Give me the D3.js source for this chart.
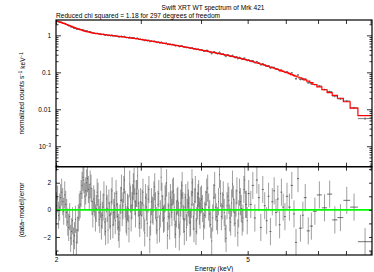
<!DOCTYPE html>
<html>
<head>
<meta charset="utf-8">
<script src="https://cdn.jsdelivr.net/npm/d3@7"></script>
<style>
body { margin: 0; background: #fff; }
svg { display: block; font-family: "Liberation Sans", Arial, sans-serif; }
.axis text { font-size: 6.5px; fill: #000; }
.axis line { stroke: #000; stroke-width: 0.8; }
</style>
</head>
<body>
<script>
//energy bin edges (keV)
var edgesA = [2.00, 2.01, 2.02, 2.03, 2.04, 2.05, 2.06, 2.07, 2.08, 2.09, 2.10, 2.11, 2.12, 2.13, 2.14, 2.15, 2.16, 2.17, 2.18, 2.19,
    2.20, 2.21, 2.22, 2.23, 2.24, 2.25, 2.26, 2.27, 2.28, 2.29, 2.30, 2.31, 2.32, 2.33, 2.34, 2.35, 2.36, 2.37, 2.38, 2.39,
    2.40, 2.41, 2.42, 2.43, 2.44, 2.45, 2.46, 2.47, 2.48, 2.49, 2.50, 2.51, 2.52, 2.53, 2.54, 2.55, 2.56, 2.57, 2.58, 2.59,
    2.60, 2.61, 2.62, 2.63, 2.64, 2.65, 2.66, 2.67, 2.68, 2.69, 2.70, 2.71, 2.72, 2.73, 2.74, 2.75, 2.76, 2.77, 2.78, 2.79,
    2.80, 2.81, 2.82, 2.83, 2.84, 2.85, 2.86, 2.87, 2.88, 2.89, 2.90, 2.91, 2.92, 2.93, 2.94, 2.95, 2.96, 2.97, 2.98, 2.99, 3.00];
var edgesB = [3.0125, 3.025, 3.0375, 3.05, 3.0625, 3.075, 3.0875, 3.10, 3.1125, 3.125, 3.1375, 3.15, 3.1625, 3.175, 3.1875, 3.20,
    3.2125, 3.225, 3.2375, 3.25, 3.2625, 3.275, 3.2875, 3.30, 3.3125, 3.325, 3.3375, 3.35, 3.3625, 3.375, 3.3875, 3.40,
    3.4125, 3.425, 3.4375, 3.45, 3.4625, 3.475, 3.4875, 3.50, 3.5125, 3.525, 3.5375, 3.55, 3.5625, 3.575, 3.5875, 3.60,
    3.6125, 3.625, 3.6375, 3.65, 3.6625, 3.675, 3.6875, 3.70, 3.7125, 3.725, 3.7375, 3.75, 3.7625, 3.775, 3.7875, 3.80,
    3.8125, 3.825, 3.8375, 3.85, 3.8625, 3.875, 3.8875, 3.90, 3.9125, 3.925, 3.9375, 3.95, 3.9625, 3.975, 3.9875, 4.00];
var edgesC = [4.02, 4.04, 4.06, 4.08, 4.10, 4.12, 4.14, 4.16, 4.18, 4.20, 4.22, 4.24, 4.26, 4.28, 4.30, 4.32, 4.34, 4.36, 4.38, 4.40,
    4.42, 4.44, 4.46, 4.48, 4.50, 4.52, 4.54, 4.56, 4.58, 4.60, 4.62, 4.64, 4.66, 4.68, 4.70, 4.72, 4.74, 4.76, 4.78, 4.80,
    4.82, 4.84, 4.86, 4.88, 4.90, 4.92, 4.94, 4.96, 4.98, 5.00];
var edgesD = [5.05, 5.10, 5.15, 5.20, 5.25, 5.30, 5.35, 5.40, 5.45, 5.50, 5.55, 5.60, 5.65, 5.70, 5.75, 5.80, 5.85, 5.90, 5.95, 6.00];
var edgesE = [6.07, 6.14, 6.21, 6.27, 6.33, 6.39, 6.48, 6.54, 6.63, 6.73, 6.83, 6.96, 7.13, 7.31, 7.49, 7.68, 7.90, 8.16, 8.47, 9.06];

//folded model (normalized counts s^-1 keV^-1) for each bin
var modelA = [2.445, 2.395, 2.345, 2.295, 2.245, 2.198, 2.152, 2.108, 2.062, 2.015,
    1.965, 1.918, 1.872, 1.83, 1.79, 1.748, 1.702, 1.66, 1.62, 1.585,
    1.555, 1.525, 1.495, 1.465, 1.435, 1.405, 1.375, 1.348, 1.322, 1.30,
    1.28, 1.262, 1.248, 1.232, 1.218, 1.202, 1.188, 1.172, 1.158, 1.145,
    1.135, 1.126, 1.119, 1.111, 1.104, 1.096, 1.089, 1.081, 1.074, 1.066,
    1.059, 1.051, 1.044, 1.036, 1.029, 1.021, 1.014, 1.008, 1.003, 0.998,
    0.993, 0.987, 0.981, 0.975, 0.97, 0.964, 0.959, 0.953, 0.948, 0.942,
    0.937, 0.931, 0.925, 0.919, 0.914, 0.908, 0.903, 0.897, 0.892, 0.886,
    0.881, 0.875, 0.87, 0.864, 0.859, 0.853, 0.849, 0.843, 0.838, 0.832,
    0.827, 0.821, 0.817, 0.811, 0.806, 0.8, 0.796, 0.79, 0.786, 0.779];
var modelB = [0.771, 0.765, 0.758, 0.752, 0.746, 0.74, 0.733, 0.727, 0.721, 0.715,
    0.709, 0.703, 0.697, 0.691, 0.685, 0.679, 0.674, 0.668, 0.662, 0.656,
    0.651, 0.645, 0.64, 0.634, 0.629, 0.623, 0.619, 0.613, 0.608, 0.602,
    0.598, 0.592, 0.587, 0.582, 0.577, 0.573, 0.568, 0.564, 0.559, 0.555,
    0.55, 0.546, 0.541, 0.537, 0.533, 0.529, 0.524, 0.52, 0.516, 0.512,
    0.508, 0.504, 0.5, 0.496, 0.492, 0.488, 0.484, 0.48, 0.476, 0.472,
    0.469, 0.465, 0.461, 0.457, 0.454, 0.45, 0.447, 0.443, 0.44, 0.436,
    0.433, 0.429, 0.426, 0.422, 0.419, 0.415, 0.412, 0.408, 0.406, 0.402];
var modelC = [0.399, 0.394, 0.389, 0.384, 0.379, 0.374, 0.369, 0.365, 0.36, 0.356,
    0.351, 0.347, 0.343, 0.339, 0.335, 0.331, 0.327, 0.323, 0.319, 0.315,
    0.311, 0.307, 0.304, 0.3, 0.297, 0.293, 0.29, 0.286, 0.283, 0.279,
    0.276, 0.272, 0.269, 0.265, 0.262, 0.258, 0.255, 0.251, 0.248, 0.244,
    0.242, 0.238, 0.236, 0.232, 0.23, 0.226, 0.224, 0.22, 0.218, 0.214];
var modelD = [0.209, 0.201, 0.194, 0.187, 0.18, 0.174, 0.168, 0.162, 0.156, 0.15,
    0.145, 0.139, 0.134, 0.129, 0.124, 0.119, 0.115, 0.11, 0.106, 0.102];
var modelE = [0.0976, 0.0921, 0.0869, 0.0825, 0.0785, 0.0748, 0.0704, 0.0663, 0.0624, 0.0576,
    0.0526, 0.0468, 0.0403, 0.0338, 0.0282, 0.0239, 0.0199, 0.016, 0.0108, 0.0067];

//(data-model)/error for each bin
var residA = [0.3, 0.8, -0.4, 0.2, 0.9, 1.3, 0.6, -0.1, 1.1, 0.4,
    -0.2, -0.9, -1.3, -0.5, -2.1, -1.6, -0.8, -2.3, -1.9, -0.7,
    -2.4, -1.5, -0.6, 0.2, 0.4, 1.2, 1.8, 2.4, 2.2, 1.0,
    1.4, 2.0, 2.3, 1.5, 0.9, 1.9, 1.6, 0.6, -0.3, 0.8,
    0.5, -0.6, 0.1, 1.3, 1.0, -0.2, -0.7, 0.4, -1.2, -0.4,
    0.2, 1.1, -0.9, -1.6, 0.8, 0.1, -1.5, 0.5, -0.4, -1.2,
    0.6, 1.4, -1.1, -0.2, 0.3, -0.8, 1.2, 0.4, -0.5, -1.3,
    -1.8, -0.6, 0.7, 1.6, -0.2, 0.3, 1.5, 2.2, 0.4, -0.7,
    -0.9, 0.2, 0.1, -1.4, 1.9, 0.8, -0.6, 0.3, 0.9, 1.7,
    2.1, 0.6, -0.3, 1.2, 1.2, 2.5, 0.5, -0.4, -1.0, 0.6];
var residB = [-0.4, 0.5, 1.3, -0.6, -1.7, 0.9, 0.2, -1.0, 0.8, 1.5,
    -2.2, -0.9, 0.6, 0.0, -0.1, 1.1, 1.7, 0.3, -0.8, -1.5,
    0.4, 1.2, -1.4, -0.3, 2.4, 1.0, 0.1, -0.7, -0.6, 0.8,
    1.0, 2.0, -1.9, -0.5, 0.3, -1.2, 0.9, 0.4, -0.2, 1.3,
    1.4, 0.2, -1.1, -1.8, -0.3, 0.6, 0.7, -0.4, -2.0, -0.9,
    0.5, 1.1, 1.8, 0.3, -0.7, -1.6, 0.2, 0.9, -1.3, -0.2,
    1.1, 0.5, 0.0, -1.0, -0.9, 0.4, 2.0, 1.3, -0.5, -1.4,
    0.6, 1.5, -1.6, -0.8, 0.3, 0.9, 1.2, -0.1, -0.4, 0.7];
var residC = [0.8, 0.1, -1.2, -0.4, 0.4, 1.3, 1.6, 0.2, -0.3, -1.1,
    -2.3, -0.6, 0.9, 1.8, 0.2, -0.5, -0.8, 0.6, 2.6, 1.2,
    -0.5, 0.3, 1.1, -0.2, -1.4, -2.1, 0.3, 1.0, 0.7, -0.6,
    -0.9, 0.5, 1.9, 0.8, -0.2, -1.0, 0.5, 1.4, -1.7, -0.3,
    1.3, 0.6, 0.1, -0.9, -0.6, 1.5, 2.2, 0.4, 0.4, -0.8];
var residD = [1.2, 0.4, 1.8, -0.6, 2.2, 0.9, -1.3, 1.5, 0.3, -0.8,
    1.0, -1.6, 0.6, 1.4, -0.2, 0.8, -1.1, 1.3, 0.2, -0.5];
var residE = [1.0, 0.2, 1.8, -0.3, -2.4, 2.3, -1.35, -0.4, 0.9, -1.55,
    -1.2, -0.1, 1.1, 0.15, 1.16, -0.74, -0.57, 0.7, 0.2, -2.35];

//fractional error of the data points, by energy band
var errBandTop = [4, 6, 7.5, 10];
var errBandFrac = [0.025, 0.04, 0.06, 0.07];

//tick values
var xTicks = [2, 3, 4, 5, 6, 7, 8, 9];
var xLabels = [2, 5];
var rateMajor = [1, 0.1, 0.01, 0.001];
var resMajor = [-2, 0, 2];
var resMinor = [-3, -1, 1, 3];

//plot frame ("top" is taken by window.top, so use other names)
var w = 374, h = 272;
var pLeft = 56, pRight = 372, pTop = 20, pMid = 166.7, pBottom = 255;

var edges = edgesA.concat(edgesB, edgesC, edgesD, edgesE);
var modelRate = modelA.concat(modelB, modelC, modelD, modelE);
var residual = residA.concat(residB, residC, residD, residE);

//one object per bin
var bins = modelRate.map(function(m, i){
    var lo = edges[i], hi = edges[i + 1];
    var mean = (lo + hi) / 2;
    var frac = errBandFrac[d3.bisectLeft(errBandTop, mean)];
    var err = m * frac;
    return {
        lo: lo,
        hi: hi,
        mean: mean,
        model: m,
        res: residual[i],
        data: m + residual[i] * err,
        err: err
    };
});

//scales
var x = d3.scaleLog()
    .domain([2, 9.06])
    .range([pLeft, pRight]);

var yRate = d3.scaleLog()
    .domain([2.6, 2.8e-4])
    .range([pTop, pMid]);

var yRes = d3.scaleLinear()
    .domain([3.18, -3.33])
    .range([pMid, pBottom]);

//svg container
var container = d3.select("body")
    .append("svg")
    .attr("width", w)
    .attr("height", h)
    .attr("class", "container");

//title lines
var title = container.append("text")
    .attr("class", "title")
    .attr("x", 213)
    .attr("y", 10)
    .attr("text-anchor", "middle")
    .style("font-size", "6.6px")
    .text("Swift XRT WT spectrum of Mrk 421");

var subtitle = container.append("text")
    .attr("class", "subtitle")
    .attr("x", pLeft)
    .attr("y", 17.5)
    .style("font-size", "6.6px")
    .text("Reduced chi squared = 1.18 for 297 degrees of freedom");

//top panel: data crosses
var dataH = container.selectAll(".dataH")
    .data(bins)
    .enter()
    .append("line")
    .attr("class", "dataH")
    .attr("x1", function(d){ return x(d.lo); })
    .attr("x2", function(d){ return x(d.hi); })
    .attr("y1", function(d){ return yRate(d.data); })
    .attr("y2", function(d){ return yRate(d.data); })
    .style("stroke", "#555")
    .style("stroke-width", 0.8);

var dataV = container.selectAll(".dataV")
    .data(bins)
    .enter()
    .append("line")
    .attr("class", "dataV")
    .attr("x1", function(d){ return x(d.mean); })
    .attr("x2", function(d){ return x(d.mean); })
    .attr("y1", function(d){ return yRate(d.data + d.err); })
    .attr("y2", function(d){ return yRate(d.data - d.err); })
    .style("stroke", "#555")
    .style("stroke-width", 0.8);

//model histogram
var stepPoints = bins.map(function(d){ return [d.lo, d.model]; });
stepPoints.push([bins[bins.length - 1].hi, bins[bins.length - 1].model]);

var modelLine = container.append("path")
    .datum(stepPoints)
    .attr("class", "modelLine")
    .attr("d", d3.line()
        .curve(d3.curveStepAfter)
        .x(function(d){ return x(d[0]); })
        .y(function(d){ return yRate(d[1]); }))
    .style("fill", "none")
    .style("stroke", "#ff0000")
    .style("stroke-width", 1.2);

//bottom panel: residual crosses
var resV = container.selectAll(".resV")
    .data(bins)
    .enter()
    .append("line")
    .attr("class", "resV")
    .attr("x1", function(d){ return x(d.mean); })
    .attr("x2", function(d){ return x(d.mean); })
    .attr("y1", function(d){ return yRes(Math.min(d.res + 1, 3.18)); })
    .attr("y2", function(d){ return yRes(Math.max(d.res - 1, -3.33)); })
    .style("stroke", "#000")
    .style("stroke-opacity", 0.38)
    .style("stroke-width", 1);

var resH = container.selectAll(".resH")
    .data(bins)
    .enter()
    .append("line")
    .attr("class", "resH")
    .attr("x1", function(d){ return x(d.lo); })
    .attr("x2", function(d){ return x(d.hi); })
    .attr("y1", function(d){ return yRes(d.res); })
    .attr("y2", function(d){ return yRes(d.res); })
    .style("stroke", "#333")
    .style("stroke-width", 0.7);

//zero line
var zeroLine = container.append("line")
    .attr("class", "zeroLine")
    .attr("x1", pLeft)
    .attr("x2", pRight)
    .attr("y1", yRes(0))
    .attr("y2", yRes(0))
    .style("stroke", "#00ff00")
    .style("stroke-width", 1.6);

//frames
var frames = container.selectAll(".frame")
    .data([[pTop, pMid], [pMid, pBottom]])
    .enter()
    .append("rect")
    .attr("class", "frame")
    .attr("x", pLeft)
    .attr("y", function(d){ return d[0]; })
    .attr("width", pRight - pLeft)
    .attr("height", function(d){ return d[1] - d[0]; })
    .style("fill", "none")
    .style("stroke", "#000")
    .style("stroke-width", 1.2);

//helper to add an axis group with its domain line removed
function addAxis(gen, tx, ty){
    var g = container.append("g")
        .attr("class", "axis")
        .attr("transform", "translate(" + tx + "," + ty + ")")
        .call(gen);
    g.select(".domain").remove();
    return g;
}

//x ticks on every frame edge (inward)
addAxis(d3.axisTop(x).tickValues(xTicks).tickSize(-4).tickFormat(""), 0, pTop);
addAxis(d3.axisBottom(x).tickValues(xTicks).tickSize(-4).tickFormat(""), 0, pMid);
addAxis(d3.axisTop(x).tickValues(xTicks).tickSize(-4).tickFormat(""), 0, pMid);
addAxis(d3.axisBottom(x).tickValues(xTicks).tickSize(-4).tickPadding(2.5)
    .tickFormat(function(d){ return xLabels.indexOf(d) >= 0 ? d : ""; }), 0, pBottom);

//rate axis: decades labelled, minor ticks from the log scale
var rateMinor = yRate.ticks().filter(function(d){
    return rateMajor.indexOf(d) < 0;
});

var rateAxis = addAxis(d3.axisLeft(yRate).tickValues(rateMajor).tickSize(-5).tickPadding(5)
    .tickFormat(function(d){ return d === 0.001 ? "" : d; }), pLeft, 0);
addAxis(d3.axisLeft(yRate).tickValues(rateMinor).tickSize(-2.5).tickFormat(""), pLeft, 0);
addAxis(d3.axisRight(yRate).tickValues(rateMajor).tickSize(-5).tickFormat(""), pRight, 0);
addAxis(d3.axisRight(yRate).tickValues(rateMinor).tickSize(-2.5).tickFormat(""), pRight, 0);

//10^-3 label with a superscript
var expLabel = rateAxis.selectAll(".tick")
    .filter(function(d){ return d === 0.001; })
    .select("text");
expLabel.append("tspan").text("10");
expLabel.append("tspan")
    .attr("dy", "-0.45em")
    .style("font-size", "4.5px")
    .text("\u22123");

//residual axis
addAxis(d3.axisLeft(yRes).tickValues(resMajor).tickSize(-4).tickPadding(5)
    .tickFormat(function(d){ return d < 0 ? "\u2212" + (-d) : d; }), pLeft, 0);
addAxis(d3.axisLeft(yRes).tickValues(resMinor).tickSize(-2.5).tickFormat(""), pLeft, 0);
addAxis(d3.axisRight(yRes).tickValues(resMajor.concat(resMinor)).tickSize(-3).tickFormat(""), pRight, 0);

//axis titles
var rateTitle = container.append("text")
    .attr("class", "rateTitle")
    .attr("transform", "translate(24," + ((pTop + pMid) / 2) + ") rotate(-90)")
    .attr("text-anchor", "middle")
    .style("font-size", "6.6px");
rateTitle.append("tspan").text("normalized counts s");
rateTitle.append("tspan").attr("dy", "-0.45em").style("font-size", "4.5px").text("\u22121");
rateTitle.append("tspan").attr("dy", "0.45em").text(" keV");
rateTitle.append("tspan").attr("dy", "-0.45em").style("font-size", "4.5px").text("\u22121");

var resTitle = container.append("text")
    .attr("class", "resTitle")
    .attr("transform", "translate(24," + yRes(0) + ") rotate(-90)")
    .attr("text-anchor", "middle")
    .style("font-size", "6.6px")
    .text("(data\u2212model)/error");

var xTitle = container.append("text")
    .attr("class", "xTitle")
    .attr("x", 214)
    .attr("y", 270.5)
    .attr("text-anchor", "middle")
    .style("font-size", "6.6px")
    .text("Energy (keV)");
</script>
</body>
</html>
